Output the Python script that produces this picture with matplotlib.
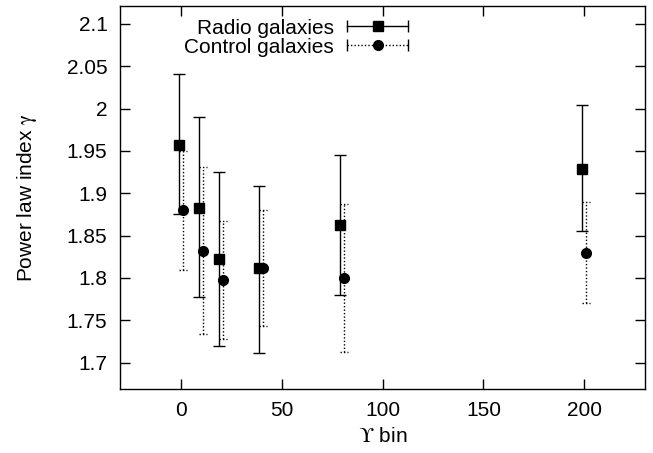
import numpy as np
import matplotlib
matplotlib.use('Agg')
import matplotlib.pyplot as plt
from matplotlib.lines import Line2D
from matplotlib.legend_handler import HandlerLine2D, HandlerTuple

plt.rcParams['font.family'] = ['Liberation Sans', 'DejaVu Sans']
plt.rcParams['mathtext.fontset'] = 'stix'

# bins of the Upsilon parameter; points are drawn shifted by -1 / +1
bins = np.array([0, 10, 20, 40, 80, 200])

radio_gamma = np.array([1.957, 1.883, 1.823, 1.812, 1.863, 1.929])
radio_hi = np.array([2.041, 1.990, 1.925, 1.909, 1.945, 2.004])
radio_lo = np.array([1.875, 1.777, 1.720, 1.712, 1.780, 1.855])

ctrl_gamma = np.array([1.880, 1.832, 1.798, 1.812, 1.800, 1.830])
ctrl_hi = np.array([1.950, 1.931, 1.867, 1.880, 1.887, 1.890])
ctrl_lo = np.array([1.810, 1.734, 1.728, 1.743, 1.713, 1.771])

fig = plt.figure(figsize=(6.53, 4.53), dpi=100)
ax = fig.add_axes([120 / 653, 1 - 389 / 453, 525 / 653, 383 / 453])

xr = bins - 1
xc = bins + 1

ax.errorbar(xr, radio_gamma,
            yerr=[radio_gamma - radio_lo, radio_hi - radio_gamma],
            fmt='s', color='black', ms=7, elinewidth=1.0, capsize=4, capthick=1.0)

eb = ax.errorbar(xc, ctrl_gamma,
                 yerr=[ctrl_gamma - ctrl_lo, ctrl_hi - ctrl_gamma],
                 fmt='o', color='black', ms=7, elinewidth=1.0, capsize=0)
eb[2][0].set_linestyle((0, (1, 1.5)))
# dotted caps for the control sample
ax.hlines(np.concatenate([ctrl_lo, ctrl_hi]),
          np.concatenate([xc, xc]) - 2, np.concatenate([xc, xc]) + 2,
          colors='black', linestyles=(0, (1, 1.5)), lw=1.0)

ax.set_xlim(-30, 230)
ax.set_ylim(1.669, 2.121)
ax.set_xticks([0, 50, 100, 150, 200])
ax.set_yticks([1.7, 1.75, 1.8, 1.85, 1.9, 1.95, 2.0, 2.05, 2.1])
ax.set_yticklabels(['1.7', '1.75', '1.8', '1.85', '1.9', '1.95', '2', '2.05', '2.1'])
ax.tick_params(direction='in', length=7, width=1.0, top=True, right=True,
               labelsize=15, pad=9)
for s in ax.spines.values():
    s.set_linewidth(1.0)

ax.set_xlabel(r'$\mathrm{ϒ}$ bin', fontsize=15, labelpad=5)
ax.set_ylabel(r'Power law index $\mathrm{\gamma}$', fontsize=15, labelpad=20)

# gnuplot-style legend keys: horizontal bar with end caps and a marker
r_bar = Line2D([], [], color='black', lw=1.0, marker='|', ms=9, mew=1.0)
r_pt = Line2D([], [], color='black', ls='none', marker='s', ms=7)
c_bar = Line2D([], [], color='black', lw=1.0, ls=(0, (1, 1.5)), marker='|', ms=9, mew=1.0)
c_pt = Line2D([], [], color='black', ls='none', marker='o', ms=7)

ax.legend([(r_bar, r_pt), (c_bar, c_pt)], ['Radio galaxies', 'Control galaxies'],
          handler_map={r_bar: HandlerLine2D(numpoints=2, marker_pad=0),
                       c_bar: HandlerLine2D(numpoints=2, marker_pad=0),
                       tuple: HandlerTuple(ndivide=1)},
          loc='upper right', bbox_to_anchor=(0.572, 1.0), frameon=False,
          markerfirst=False, fontsize=15, handlelength=2.9, handletextpad=0.65,
          labelspacing=0.0, borderaxespad=0.2)

fig.savefig('out.png', dpi=100)
